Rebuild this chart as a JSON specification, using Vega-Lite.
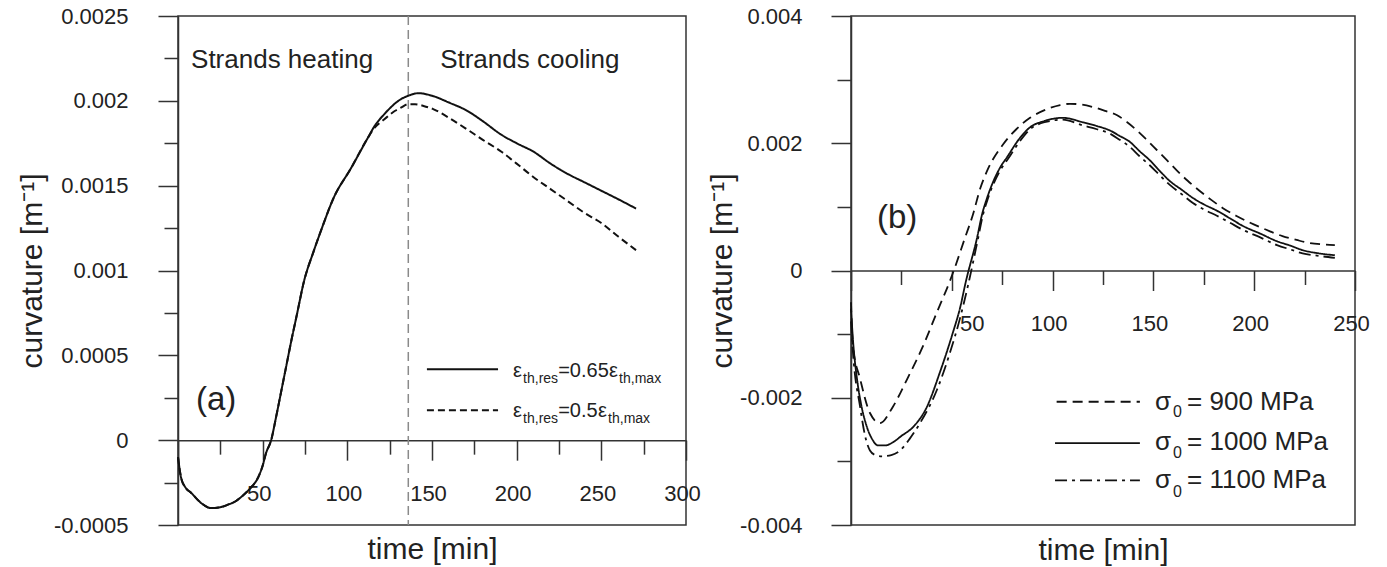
{
  "$schema": "https://vega.github.io/schema/vega-lite/v6.json",
  "background": "white",
  "padding": {"left": 16, "top": 4, "right": 5, "bottom": 5},
  "spacing": 4,
  "resolve": {"scale": {"strokeDash": "independent"}},
  "config": {
    "font": "Liberation Sans",
    "view": {"stroke": "#333", "strokeWidth": 1.5},
    "axis": {
      "grid": false,
      "domainColor": "#333",
      "domainWidth": 1.5,
      "tickColor": "#333",
      "tickWidth": 1.5,
      "labelFont": "Liberation Sans",
      "labelFontSize": 22,
      "labelColor": "#222",
      "titleFont": "Liberation Sans",
      "titleFontSize": 30,
      "titleFontWeight": "normal",
      "titleColor": "#222",
      "labelOverlap": false,
      "labelFlush": false
    }
  },
  "datasets": {
    "curvesA": [
      {"time": 0, "curvature": -0.0001, "series": "0.65"},
      {"time": 1.8, "curvature": -0.00022, "series": "0.65"},
      {"time": 4.5, "curvature": -0.00028, "series": "0.65"},
      {"time": 7.7, "curvature": -0.00031, "series": "0.65"},
      {"time": 13.6, "curvature": -0.00037, "series": "0.65"},
      {"time": 19.5, "curvature": -0.0004, "series": "0.65"},
      {"time": 25, "curvature": -0.000395, "series": "0.65"},
      {"time": 29.5, "curvature": -0.00038, "series": "0.65"},
      {"time": 34, "curvature": -0.00036, "series": "0.65"},
      {"time": 39, "curvature": -0.00032, "series": "0.65"},
      {"time": 43, "curvature": -0.00028, "series": "0.65"},
      {"time": 47.3, "curvature": -0.00022, "series": "0.65"},
      {"time": 50, "curvature": -0.00015, "series": "0.65"},
      {"time": 52, "curvature": -0.000076, "series": "0.65"},
      {"time": 55, "curvature": 0, "series": "0.65"},
      {"time": 58, "curvature": 0.00014, "series": "0.65"},
      {"time": 61, "curvature": 0.00029, "series": "0.65"},
      {"time": 64, "curvature": 0.00044, "series": "0.65"},
      {"time": 67, "curvature": 0.00059, "series": "0.65"},
      {"time": 70, "curvature": 0.00073, "series": "0.65"},
      {"time": 74.5, "curvature": 0.00094, "series": "0.65"},
      {"time": 80, "curvature": 0.00111, "series": "0.65"},
      {"time": 85, "curvature": 0.00125, "series": "0.65"},
      {"time": 92, "curvature": 0.00143, "series": "0.65"},
      {"time": 102, "curvature": 0.0016, "series": "0.65"},
      {"time": 112, "curvature": 0.00178, "series": "0.65"},
      {"time": 116, "curvature": 0.00185, "series": "0.65"},
      {"time": 121.7, "curvature": 0.00192, "series": "0.65"},
      {"time": 131.7, "curvature": 0.00201, "series": "0.65"},
      {"time": 136, "curvature": 0.00203, "series": "0.65"},
      {"time": 142, "curvature": 0.002045, "series": "0.65"},
      {"time": 150, "curvature": 0.00203, "series": "0.65"},
      {"time": 160, "curvature": 0.00199, "series": "0.65"},
      {"time": 171, "curvature": 0.00194, "series": "0.65"},
      {"time": 180, "curvature": 0.00188, "series": "0.65"},
      {"time": 191, "curvature": 0.0018, "series": "0.65"},
      {"time": 200, "curvature": 0.00175, "series": "0.65"},
      {"time": 210, "curvature": 0.0017, "series": "0.65"},
      {"time": 220, "curvature": 0.00163, "series": "0.65"},
      {"time": 230, "curvature": 0.00157, "series": "0.65"},
      {"time": 240, "curvature": 0.00152, "series": "0.65"},
      {"time": 250, "curvature": 0.00147, "series": "0.65"},
      {"time": 260, "curvature": 0.00142, "series": "0.65"},
      {"time": 270.5, "curvature": 0.001365, "series": "0.65"},
      {"time": 0, "curvature": -0.0001, "series": "0.5"},
      {"time": 1.8, "curvature": -0.00022, "series": "0.5"},
      {"time": 4.5, "curvature": -0.00028, "series": "0.5"},
      {"time": 7.7, "curvature": -0.00031, "series": "0.5"},
      {"time": 13.6, "curvature": -0.00037, "series": "0.5"},
      {"time": 19.5, "curvature": -0.0004, "series": "0.5"},
      {"time": 25, "curvature": -0.000395, "series": "0.5"},
      {"time": 29.5, "curvature": -0.00038, "series": "0.5"},
      {"time": 34, "curvature": -0.00036, "series": "0.5"},
      {"time": 39, "curvature": -0.00032, "series": "0.5"},
      {"time": 43, "curvature": -0.00028, "series": "0.5"},
      {"time": 47.3, "curvature": -0.00022, "series": "0.5"},
      {"time": 50, "curvature": -0.00015, "series": "0.5"},
      {"time": 52, "curvature": -0.000076, "series": "0.5"},
      {"time": 55, "curvature": 0, "series": "0.5"},
      {"time": 58, "curvature": 0.00014, "series": "0.5"},
      {"time": 61, "curvature": 0.00029, "series": "0.5"},
      {"time": 64, "curvature": 0.00044, "series": "0.5"},
      {"time": 67, "curvature": 0.00059, "series": "0.5"},
      {"time": 70, "curvature": 0.00073, "series": "0.5"},
      {"time": 74.5, "curvature": 0.00094, "series": "0.5"},
      {"time": 80, "curvature": 0.00111, "series": "0.5"},
      {"time": 85, "curvature": 0.00125, "series": "0.5"},
      {"time": 92, "curvature": 0.00143, "series": "0.5"},
      {"time": 102, "curvature": 0.0016, "series": "0.5"},
      {"time": 112, "curvature": 0.00178, "series": "0.5"},
      {"time": 116, "curvature": 0.00184, "series": "0.5"},
      {"time": 121.7, "curvature": 0.00189, "series": "0.5"},
      {"time": 128, "curvature": 0.00194, "series": "0.5"},
      {"time": 131.7, "curvature": 0.00196, "series": "0.5"},
      {"time": 136, "curvature": 0.00198, "series": "0.5"},
      {"time": 140, "curvature": 0.00198, "series": "0.5"},
      {"time": 145, "curvature": 0.00197, "series": "0.5"},
      {"time": 151, "curvature": 0.00195, "series": "0.5"},
      {"time": 160, "curvature": 0.0019, "series": "0.5"},
      {"time": 171, "curvature": 0.00183, "series": "0.5"},
      {"time": 180, "curvature": 0.00177, "series": "0.5"},
      {"time": 191, "curvature": 0.0017, "series": "0.5"},
      {"time": 200, "curvature": 0.00163, "series": "0.5"},
      {"time": 210, "curvature": 0.00155, "series": "0.5"},
      {"time": 220, "curvature": 0.00148, "series": "0.5"},
      {"time": 230, "curvature": 0.00141, "series": "0.5"},
      {"time": 240, "curvature": 0.00134, "series": "0.5"},
      {"time": 250, "curvature": 0.00128, "series": "0.5"},
      {"time": 260, "curvature": 0.0012, "series": "0.5"},
      {"time": 270.5, "curvature": 0.00112, "series": "0.5"}
    ],
    "curvesB": [
      {"time": 0, "curvature": -0.0005, "series": "900"},
      {"time": 1, "curvature": -0.0012, "series": "900"},
      {"time": 4.5, "curvature": -0.0017, "series": "900"},
      {"time": 9.4, "curvature": -0.00224, "series": "900"},
      {"time": 14.4, "curvature": -0.0024, "series": "900"},
      {"time": 20.8, "curvature": -0.00214, "series": "900"},
      {"time": 27.8, "curvature": -0.00171, "series": "900"},
      {"time": 35.7, "curvature": -0.00119, "series": "900"},
      {"time": 42.7, "curvature": -0.00065, "series": "900"},
      {"time": 49, "curvature": -0.00017, "series": "900"},
      {"time": 51, "curvature": 0, "series": "900"},
      {"time": 56.5, "curvature": 0.00051, "series": "900"},
      {"time": 60.5, "curvature": 0.00088, "series": "900"},
      {"time": 64, "curvature": 0.00128, "series": "900"},
      {"time": 68, "curvature": 0.0016, "series": "900"},
      {"time": 75.4, "curvature": 0.00198, "series": "900"},
      {"time": 82, "curvature": 0.00222, "series": "900"},
      {"time": 88.8, "curvature": 0.0024, "series": "900"},
      {"time": 96, "curvature": 0.00252, "series": "900"},
      {"time": 103.7, "curvature": 0.0026, "series": "900"},
      {"time": 108.6, "curvature": 0.00262, "series": "900"},
      {"time": 114, "curvature": 0.00261, "series": "900"},
      {"time": 120, "curvature": 0.00257, "series": "900"},
      {"time": 126, "curvature": 0.00251, "series": "900"},
      {"time": 132, "curvature": 0.00244, "series": "900"},
      {"time": 137, "curvature": 0.00233, "series": "900"},
      {"time": 141.9, "curvature": 0.0022, "series": "900"},
      {"time": 146.8, "curvature": 0.00205, "series": "900"},
      {"time": 151.8, "curvature": 0.00189, "series": "900"},
      {"time": 156.8, "curvature": 0.00173, "series": "900"},
      {"time": 161.7, "curvature": 0.00157, "series": "900"},
      {"time": 167, "curvature": 0.00141, "series": "900"},
      {"time": 173, "curvature": 0.00125, "series": "900"},
      {"time": 178.7, "curvature": 0.00111, "series": "900"},
      {"time": 184.5, "curvature": 0.00098, "series": "900"},
      {"time": 191, "curvature": 0.00086, "series": "900"},
      {"time": 198, "curvature": 0.00075, "series": "900"},
      {"time": 206, "curvature": 0.00064, "series": "900"},
      {"time": 214, "curvature": 0.00054, "series": "900"},
      {"time": 221, "curvature": 0.00048, "series": "900"},
      {"time": 227.7, "curvature": 0.00043, "series": "900"},
      {"time": 234, "curvature": 0.00041, "series": "900"},
      {"time": 240, "curvature": 0.0004, "series": "900"},
      {"time": 0, "curvature": -0.0006, "series": "1000"},
      {"time": 1, "curvature": -0.0011, "series": "1000"},
      {"time": 3, "curvature": -0.00171, "series": "1000"},
      {"time": 5, "curvature": -0.0021, "series": "1000"},
      {"time": 7.9, "curvature": -0.00246, "series": "1000"},
      {"time": 10.5, "curvature": -0.00265, "series": "1000"},
      {"time": 13.4, "curvature": -0.00275, "series": "1000"},
      {"time": 17, "curvature": -0.00275, "series": "1000"},
      {"time": 20.8, "curvature": -0.0027, "series": "1000"},
      {"time": 25, "curvature": -0.0026, "series": "1000"},
      {"time": 30.8, "curvature": -0.00246, "series": "1000"},
      {"time": 37.7, "curvature": -0.00214, "series": "1000"},
      {"time": 44.1, "curvature": -0.0016, "series": "1000"},
      {"time": 50.6, "curvature": -0.00097, "series": "1000"},
      {"time": 54, "curvature": -0.0006, "series": "1000"},
      {"time": 57, "curvature": -0.00017, "series": "1000"},
      {"time": 62.5, "curvature": 0.00051, "series": "1000"},
      {"time": 65, "curvature": 0.00088, "series": "1000"},
      {"time": 67.5, "curvature": 0.00114, "series": "1000"},
      {"time": 74, "curvature": 0.00162, "series": "1000"},
      {"time": 77.4, "curvature": 0.00178, "series": "1000"},
      {"time": 83, "curvature": 0.00205, "series": "1000"},
      {"time": 88.8, "curvature": 0.00225, "series": "1000"},
      {"time": 96, "curvature": 0.00235, "series": "1000"},
      {"time": 105, "curvature": 0.0024, "series": "1000"},
      {"time": 115, "curvature": 0.00233, "series": "1000"},
      {"time": 122, "curvature": 0.00227, "series": "1000"},
      {"time": 128.5, "curvature": 0.0022, "series": "1000"},
      {"time": 133, "curvature": 0.00212, "series": "1000"},
      {"time": 138.4, "curvature": 0.00202, "series": "1000"},
      {"time": 143, "curvature": 0.00188, "series": "1000"},
      {"time": 148.3, "curvature": 0.00173, "series": "1000"},
      {"time": 153, "curvature": 0.00157, "series": "1000"},
      {"time": 158, "curvature": 0.00141, "series": "1000"},
      {"time": 164, "curvature": 0.00127, "series": "1000"},
      {"time": 169.6, "curvature": 0.00114, "series": "1000"},
      {"time": 175, "curvature": 0.00104, "series": "1000"},
      {"time": 181.5, "curvature": 0.00094, "series": "1000"},
      {"time": 188, "curvature": 0.00082, "series": "1000"},
      {"time": 194.4, "curvature": 0.0007, "series": "1000"},
      {"time": 203, "curvature": 0.00058, "series": "1000"},
      {"time": 211.3, "curvature": 0.00046, "series": "1000"},
      {"time": 218, "curvature": 0.00039, "series": "1000"},
      {"time": 224, "curvature": 0.00032, "series": "1000"},
      {"time": 232, "curvature": 0.00027, "series": "1000"},
      {"time": 240, "curvature": 0.00024, "series": "1000"},
      {"time": 0, "curvature": -0.0008, "series": "1100"},
      {"time": 1, "curvature": -0.0013, "series": "1100"},
      {"time": 4.5, "curvature": -0.00214, "series": "1100"},
      {"time": 7, "curvature": -0.0026, "series": "1100"},
      {"time": 9.4, "curvature": -0.00283, "series": "1100"},
      {"time": 12, "curvature": -0.0029, "series": "1100"},
      {"time": 15.4, "curvature": -0.00292, "series": "1100"},
      {"time": 20, "curvature": -0.0029, "series": "1100"},
      {"time": 24.3, "curvature": -0.00283, "series": "1100"},
      {"time": 29, "curvature": -0.00265, "series": "1100"},
      {"time": 34.2, "curvature": -0.0024, "series": "1100"},
      {"time": 42.7, "curvature": -0.00187, "series": "1100"},
      {"time": 49.1, "curvature": -0.00129, "series": "1100"},
      {"time": 54, "curvature": -0.00076, "series": "1100"},
      {"time": 58, "curvature": -0.00024, "series": "1100"},
      {"time": 63, "curvature": 0.0005, "series": "1100"},
      {"time": 65.5, "curvature": 0.00088, "series": "1100"},
      {"time": 68, "curvature": 0.00114, "series": "1100"},
      {"time": 74.5, "curvature": 0.0016, "series": "1100"},
      {"time": 78, "curvature": 0.00176, "series": "1100"},
      {"time": 83, "curvature": 0.002, "series": "1100"},
      {"time": 88.8, "curvature": 0.00222, "series": "1100"},
      {"time": 96, "curvature": 0.00233, "series": "1100"},
      {"time": 105, "curvature": 0.00237, "series": "1100"},
      {"time": 115, "curvature": 0.00228, "series": "1100"},
      {"time": 122, "curvature": 0.00222, "series": "1100"},
      {"time": 128.5, "curvature": 0.00215, "series": "1100"},
      {"time": 133, "curvature": 0.00206, "series": "1100"},
      {"time": 138.4, "curvature": 0.00194, "series": "1100"},
      {"time": 143, "curvature": 0.0018, "series": "1100"},
      {"time": 148.3, "curvature": 0.00165, "series": "1100"},
      {"time": 153, "curvature": 0.0015, "series": "1100"},
      {"time": 158, "curvature": 0.00135, "series": "1100"},
      {"time": 164, "curvature": 0.0012, "series": "1100"},
      {"time": 169.6, "curvature": 0.00106, "series": "1100"},
      {"time": 175, "curvature": 0.00096, "series": "1100"},
      {"time": 181.5, "curvature": 0.00086, "series": "1100"},
      {"time": 188, "curvature": 0.00075, "series": "1100"},
      {"time": 194.4, "curvature": 0.00064, "series": "1100"},
      {"time": 203, "curvature": 0.00052, "series": "1100"},
      {"time": 211.3, "curvature": 0.0004, "series": "1100"},
      {"time": 218, "curvature": 0.00033, "series": "1100"},
      {"time": 224, "curvature": 0.00027, "series": "1100"},
      {"time": 232, "curvature": 0.00023, "series": "1100"},
      {"time": 240, "curvature": 0.0002, "series": "1100"}
    ],
    "headA": [
      {"label": "Strands heating", "time": 7.7, "curvature": 0.002194},
      {"label": "Strands cooling", "time": 154.8, "curvature": 0.002194}
    ],
    "panelA": [{"label": "(a)", "time": 10.6, "curvature": 0.00018}],
    "panelB": [{"label": "(b)", "time": 12.9, "curvature": 0.00067}],
    "legendAMain": [
      {"label": "ε", "time": 197.9, "curvature": 0.000371},
      {"label": "=0.65", "time": 224.5, "curvature": 0.000371},
      {"label": "ε", "time": 254.6, "curvature": 0.000371},
      {"label": "ε", "time": 197.9, "curvature": 0.000135},
      {"label": "=0.5", "time": 224.5, "curvature": 0.000135},
      {"label": "ε", "time": 248.1, "curvature": 0.000135}
    ],
    "legendASub": [
      {"label": "th,res", "time": 203.8, "curvature": 0.000335},
      {"label": "th,max", "time": 260.5, "curvature": 0.000335},
      {"label": "th,res", "time": 203.8, "curvature": 0.0001},
      {"label": "th,max", "time": 254, "curvature": 0.0001}
    ],
    "legendBMain": [
      {"label": "σ", "time": 150.8, "curvature": -0.00219},
      {"label": "= 900 MPa", "time": 166.7, "curvature": -0.00219},
      {"label": "σ", "time": 150.8, "curvature": -0.002825},
      {"label": "= 1000 MPa", "time": 166.7, "curvature": -0.002825},
      {"label": "σ", "time": 150.8, "curvature": -0.003413},
      {"label": "= 1100 MPa", "time": 166.7, "curvature": -0.003413}
    ],
    "legendBSub": [
      {"label": "0", "time": 159.7, "curvature": -0.0023},
      {"label": "0", "time": 159.7, "curvature": -0.002952},
      {"label": "0", "time": 159.7, "curvature": -0.003556}
    ],
    "one": [{}]
  },
  "hconcat": [
    {
      "width": 508,
      "height": 509,
      "layer": [
        {
          "data": {"name": "one"},
          "mark": {"type": "rule", "color": "#8a8a8a", "strokeWidth": 1.5, "strokeDash": [9, 5]},
          "encoding": {"x": {"datum": 136, "type": "quantitative"}}
        },
        {
          "data": {"name": "curvesA"},
          "mark": {"type": "line", "color": "#111", "strokeWidth": 2, "interpolate": "monotone"},
          "encoding": {
            "x": {
              "field": "time", "type": "quantitative",
              "scale": {"domain": [0, 300], "nice": false, "zero": false},
              "axis": {
                "orient": "bottom",
                "offset": -84.83,
                "values": [0, 25, 50, 75, 100, 125, 150, 175, 200, 225, 250, 275, 300],
                "labelExpr": "datum.value > 0 && datum.value % 50 === 0 ? datum.label : ''",
                "tickSize": {"condition": {"test": "datum.value % 50 === 0", "value": 20}, "value": 14},
                "labelBaseline": "alphabetic",
                "labelPadding": 40,
                "labelOffset": -4,
                "title": "time [min]",
                "titleY": 118,
                "titleBaseline": "alphabetic"
              }
            },
            "y": {
              "field": "curvature", "type": "quantitative",
              "scale": {"domain": [-0.0005, 0.0025], "nice": false, "zero": false},
              "axis": {
                "orient": "left",
                "values": [-0.0005, -0.00025, 0, 0.00025, 0.0005, 0.00075, 0.001, 0.00125, 0.0015, 0.00175, 0.002, 0.00225, 0.0025],
                "labelExpr": "abs(datum.value * 2000 - round(datum.value * 2000)) < 1e-6 ? '' + datum.value : ''",
                "tickSize": {"condition": {"test": "abs(datum.value * 2000 - round(datum.value * 2000)) < 1e-6", "value": 20}, "value": 14},
                "labelPadding": 30,
                "title": "curvature [m⁻¹]",
                "titlePadding": 6
              }
            },
            "strokeDash": {
              "field": "series", "type": "nominal",
              "scale": {"domain": ["0.65", "0.5"], "range": [[1, 0], [7, 4]]},
              "legend": null
            }
          }
        },
        {
          "data": {"name": "one"},
          "mark": {"type": "rule", "color": "#111", "strokeWidth": 2},
          "encoding": {
            "x": {"datum": 147, "type": "quantitative"},
            "x2": {"datum": 189},
            "y": {"datum": 0.000418, "type": "quantitative"}
          }
        },
        {
          "data": {"name": "one"},
          "mark": {"type": "rule", "color": "#111", "strokeWidth": 2, "strokeDash": [7, 4]},
          "encoding": {
            "x": {"datum": 147, "type": "quantitative"},
            "x2": {"datum": 189},
            "y": {"datum": 0.000176, "type": "quantitative"}
          }
        },
        {
          "data": {"name": "headA"},
          "mark": {"type": "text", "align": "left", "baseline": "alphabetic", "fontSize": 26, "color": "#222"},
          "encoding": {
            "x": {"field": "time", "type": "quantitative"},
            "y": {"field": "curvature", "type": "quantitative"},
            "text": {"field": "label"}
          }
        },
        {
          "data": {"name": "panelA"},
          "mark": {"type": "text", "align": "left", "baseline": "alphabetic", "fontSize": 33, "color": "#222"},
          "encoding": {
            "x": {"field": "time", "type": "quantitative"},
            "y": {"field": "curvature", "type": "quantitative"},
            "text": {"field": "label"}
          }
        },
        {
          "data": {"name": "legendAMain"},
          "mark": {"type": "text", "align": "left", "baseline": "alphabetic", "fontSize": 20, "color": "#222"},
          "encoding": {
            "x": {"field": "time", "type": "quantitative"},
            "y": {"field": "curvature", "type": "quantitative"},
            "text": {"field": "label"}
          }
        },
        {
          "data": {"name": "legendASub"},
          "mark": {"type": "text", "align": "left", "baseline": "alphabetic", "fontSize": 14, "color": "#222"},
          "encoding": {
            "x": {"field": "time", "type": "quantitative"},
            "y": {"field": "curvature", "type": "quantitative"},
            "text": {"field": "label"}
          }
        }
      ]
    },
    {
      "width": 504,
      "height": 509,
      "layer": [
        {
          "data": {"name": "curvesB"},
          "mark": {"type": "line", "color": "#111", "strokeWidth": 1.8, "interpolate": "monotone"},
          "encoding": {
            "x": {
              "field": "time", "type": "quantitative",
              "scale": {"domain": [0, 250], "nice": false, "zero": false},
              "axis": {
                "orient": "bottom",
                "offset": -254.5,
                "values": [0, 25, 50, 75, 100, 125, 150, 175, 200, 225, 250],
                "labelExpr": "datum.value > 0 && datum.value % 50 === 0 ? datum.label : ''",
                "tickSize": {"condition": {"test": "datum.value % 50 === 0", "value": 20}, "value": 14},
                "labelBaseline": "alphabetic",
                "labelPadding": 40,
                "labelOffset": {"condition": {"test": "datum.value === 50", "value": 20}, "value": -4},
                "title": "time [min]",
                "titleY": 288.5,
                "titleBaseline": "alphabetic"
              }
            },
            "y": {
              "field": "curvature", "type": "quantitative",
              "scale": {"domain": [-0.004, 0.004], "nice": false, "zero": false},
              "axis": {
                "orient": "left",
                "values": [-0.004, -0.003, -0.002, -0.001, 0, 0.001, 0.002, 0.003, 0.004],
                "labelExpr": "abs(datum.value * 500 - round(datum.value * 500)) < 1e-6 ? '' + datum.value : ''",
                "tickSize": {"condition": {"test": "abs(datum.value * 500 - round(datum.value * 500)) < 1e-6", "value": 20}, "value": 14},
                "labelPadding": 29,
                "title": "curvature [m⁻¹]",
                "titlePadding": 2
              }
            },
            "strokeDash": {
              "field": "series", "type": "nominal",
              "scale": {"domain": ["900", "1000", "1100"], "range": [[10, 6], [1, 0], [12, 5, 3, 5]]},
              "legend": null
            }
          }
        },
        {
          "data": {"name": "one"},
          "mark": {"type": "rule", "color": "#111", "strokeWidth": 1.8, "strokeDash": [10, 6]},
          "encoding": {
            "x": {"datum": 102, "type": "quantitative"},
            "x2": {"datum": 143.3},
            "y": {"datum": -0.002063, "type": "quantitative"}
          }
        },
        {
          "data": {"name": "one"},
          "mark": {"type": "rule", "color": "#111", "strokeWidth": 1.8},
          "encoding": {
            "x": {"datum": 101.2, "type": "quantitative"},
            "x2": {"datum": 143.3},
            "y": {"datum": -0.002714, "type": "quantitative"}
          }
        },
        {
          "data": {"name": "one"},
          "mark": {"type": "rule", "color": "#111", "strokeWidth": 1.8, "strokeDash": [12, 5, 3, 5]},
          "encoding": {
            "x": {"datum": 101.2, "type": "quantitative"},
            "x2": {"datum": 143.3},
            "y": {"datum": -0.0033, "type": "quantitative"}
          }
        },
        {
          "data": {"name": "panelB"},
          "mark": {"type": "text", "align": "left", "baseline": "alphabetic", "fontSize": 33, "color": "#222"},
          "encoding": {
            "x": {"field": "time", "type": "quantitative"},
            "y": {"field": "curvature", "type": "quantitative"},
            "text": {"field": "label"}
          }
        },
        {
          "data": {"name": "legendBMain"},
          "mark": {"type": "text", "align": "left", "baseline": "alphabetic", "fontSize": 26, "color": "#222"},
          "encoding": {
            "x": {"field": "time", "type": "quantitative"},
            "y": {"field": "curvature", "type": "quantitative"},
            "text": {"field": "label"}
          }
        },
        {
          "data": {"name": "legendBSub"},
          "mark": {"type": "text", "align": "left", "baseline": "alphabetic", "fontSize": 16, "color": "#222"},
          "encoding": {
            "x": {"field": "time", "type": "quantitative"},
            "y": {"field": "curvature", "type": "quantitative"},
            "text": {"field": "label"}
          }
        }
      ]
    }
  ]
}
